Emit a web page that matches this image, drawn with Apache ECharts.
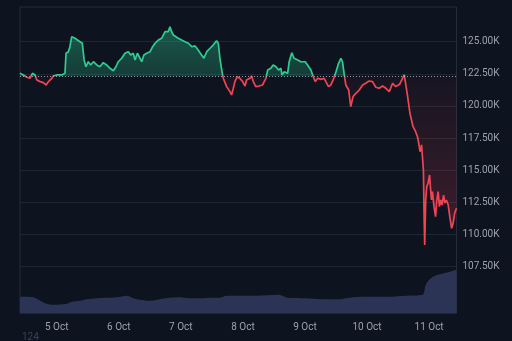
<!DOCTYPE html>
<html>
<head>
<meta charset="utf-8">
<script src="https://cdn.jsdelivr.net/npm/echarts@6/dist/echarts.min.js"></script>
<style>
html,body{margin:0;padding:0;background:#0e1320;}
#c{width:512px;height:341px;}
</style>
</head>
<body>
<div id="c"></div>
<script>
// hours since 4 Oct 2025 00:00 UTC
const hours = [
  9.8, 11.1, 12.4, 13.7, 14.6, 15.6, 16.3, 17.6, 18.8, 19.9,
  20.8, 22.1, 22.7, 24.0, 25.9, 27.2, 27.6, 28.5, 29.1, 29.8,
  30.4, 31.1, 32.0, 33.0, 33.9, 34.6, 35.3, 36.2, 37.1, 38.2,
  39.5, 40.7, 42.0, 43.3, 44.6, 45.9, 46.9, 47.8, 49.1, 50.4,
  51.7, 52.6, 53.6, 54.3, 55.2, 56.2, 56.9, 57.7, 58.8, 60.1,
  61.1, 62.0, 63.3, 64.6, 65.9, 66.5, 67.1, 67.8, 68.4, 69.1,
  70.1, 71.0, 72.3, 73.6, 74.9, 76.2, 77.5, 78.7, 80.0, 80.9,
  82.0, 83.3, 84.5, 85.8, 86.5, 87.1, 87.8, 88.4, 89.7, 91.0,
  91.6, 92.3, 92.9, 93.8, 94.8, 95.9, 96.8, 97.4, 98.7, 99.4,
  100.0, 101.0, 102.3, 103.6, 104.9, 105.6, 106.8, 107.7, 108.8, 109.8,
  110.7, 111.1, 112.0, 113.3, 113.9, 114.9, 115.8, 117.2, 118.4, 119.1,
  120.1, 121.0, 122.3, 123.2, 124.0, 124.9, 126.2, 127.4, 128.1, 129.1,
  130.0, 130.9, 132.0, 133.0, 133.9, 134.5, 135.2, 135.8, 136.9, 137.7,
  138.6, 139.7, 141.0, 142.3, 143.5, 144.8, 146.1, 147.4, 148.7, 150.0,
  151.3, 152.6, 153.9, 155.1, 156.7, 158.4, 159.0, 159.7, 160.6, 161.2,
  161.8, 162.8, 163.5, 164.0, 164.5, 165.1, 165.6, 165.8, 166.1, 166.3,
  166.7, 167.1, 167.6, 168.2, 168.5, 168.9, 169.3, 169.9, 170.5, 171.0,
  171.5, 172.0, 172.5, 173.0, 173.6, 174.1, 174.7, 175.4, 176.0, 176.7,
  177.3, 177.9, 178.6
];
const prices = [
  122540, 122410, 122230, 122150, 122540, 122410, 122020, 121890, 121810, 121630,
  121890, 122150, 122330, 122410, 122410, 122540, 124100, 124220, 124610, 125390,
  125520, 125270, 125130, 125000, 124880, 123580, 123050, 123440, 123190, 123440,
  123190, 123050, 123370, 123190, 122930, 122740, 123050, 123440, 123710, 124100,
  124220, 123960, 124100, 123580, 124100, 123710, 123440, 123960, 124100, 124220,
  124610, 124880, 125130, 125270, 125780, 125650, 125780, 126170, 125780, 125520,
  125390, 125270, 125130, 125000, 124880, 124610, 124670, 124350, 123960, 123710,
  124220, 124490, 124740, 125080, 124880, 123710, 122800, 122150, 121500, 121110,
  120850, 121370, 121890, 122270, 122150, 121890, 121550, 122020, 122150, 122330,
  121890, 121500, 121550, 121630, 122150, 122800, 122930, 123190, 123050, 122800,
  122930, 122410, 122660, 122540, 123440, 124140, 123710, 123580, 123440, 123580,
  123440, 123190, 122800, 122270, 121890, 122150, 122070, 122150, 122020, 121500,
  121630, 122020, 122660, 123320, 123710, 123440, 122410, 121630, 121240, 119940,
  120720, 120980, 121240, 121630, 121760, 121940, 121890, 121450, 121370, 121550,
  121370, 121110, 121760, 121500, 121710, 122410, 121630, 120720, 119420, 118900,
  118380, 117990, 117600, 117090, 116430, 116960, 117090, 115010, 111110, 109170,
  112670, 113710, 113970, 114620, 113710, 112670, 113320, 112150, 111370, 112670,
  113320, 112150, 112670, 112280, 113060, 112420, 112670, 112280, 111370, 110470,
  110860, 111640, 112030
];
const baseline = 122300;

const volHours = [
  9.8, 15.0, 17.6, 20.1, 22.7, 27.9, 29.8, 33.0, 35.6, 39.5,
  43.3, 47.2, 51.1, 53.6, 56.2, 60.1, 63.9, 67.8, 71.7, 75.5,
  79.4, 84.5, 87.1, 89.7, 94.8, 101.0, 110.0, 113.3, 120.4, 126.8,
  133.2, 138.4, 146.1, 152.6, 159.0, 165.5, 166.7, 168.7, 171.3, 174.5,
  178.6
];
const volumes = [
  33, 32, 25, 19, 17, 19, 23, 25, 28, 30,
  31, 32, 35, 30, 27, 25, 28, 31, 32, 30,
  30, 31, 31, 35, 35, 35, 37, 31, 30, 28,
  28, 32, 33, 33, 35, 37, 57, 70, 77, 81,
  87
];

const T0 = Date.UTC(2025, 9, 4);
const toTime = h => T0 + h * 3600000;

const lineData = hours.map((h, i) => [toTime(h), prices[i]]);
const upData = hours.map((h, i) => [toTime(h), Math.max(prices[i], baseline)]);
const downData = hours.map((h, i) => [toTime(h), Math.min(prices[i], baseline)]);
const volData = volHours.map((h, i) => [toTime(h), volumes[i]]);

const xMin = toTime(hours[0]);
const xMax = toTime(hours[hours.length - 1]);

const GREEN = '#2ecc8f';
const RED = '#f04452';
const LABEL = '#9ca3af';
const FONT = 'Roboto, "Noto Sans", sans-serif';
const H = 341;

const chart = echarts.init(document.getElementById('c'), null, {renderer: 'canvas'});
chart.setOption({
  backgroundColor: '#0e1320',
  animation: false,
  useUTC: true,
  grid: [
    {left: 20, right: 55.5, top: 9.6, bottom: 42.5, show: false},
    {left: 20, right: 55.5, top: 7, bottom: 27.7, show: true, borderColor: '#262c3b', borderWidth: 1, backgroundColor: 'transparent'}
  ],
  xAxis: [
    {type: 'time', gridIndex: 0, min: xMin, max: xMax, show: false},
    {type: 'time', gridIndex: 1, min: xMin, max: xMax,
     minInterval: 86400000, maxInterval: 86400000,
     axisLine: {show: false}, axisTick: {show: false}, splitLine: {show: false},
     axisLabel: {formatter: '{d} {MMM}', color: LABEL, fontSize: 10, fontFamily: FONT, margin: 9, hideOverlap: false}}
  ],
  yAxis: [
    {type: 'value', gridIndex: 0, position: 'right', min: 105000, max: 127500, interval: 2500,
     axisLine: {show: false}, axisTick: {show: false},
     splitLine: {show: true, showMinLine: false, showMaxLine: false, lineStyle: {color: '#1f2534', width: 1}},
     axisLabel: {color: LABEL, fontSize: 10, fontFamily: FONT, margin: 6, showMinLabel: false, showMaxLabel: false,
       formatter: v => (v / 1000).toFixed(2) + 'K'}},
    {type: 'value', gridIndex: 1, min: 0, max: 612, show: false}
  ],
  series: [
    {type: 'line', xAxisIndex: 1, yAxisIndex: 1, data: volData, smooth: 0.3, showSymbol: false,
     lineStyle: {width: 0}, areaStyle: {color: '#2b3454', opacity: 1}, z: 1, silent: true},
    {type: 'line', xAxisIndex: 0, yAxisIndex: 0, data: upData, showSymbol: false,
     lineStyle: {width: 0}, z: 2, silent: true,
     areaStyle: {origin: baseline, opacity: 1,
       color: new echarts.graphic.LinearGradient(0, 0, 0, 1, [
         {offset: 0, color: 'rgba(46,204,143,0.38)'},
         {offset: 1, color: 'rgba(46,204,143,0.22)'}])}},
    {type: 'line', xAxisIndex: 0, yAxisIndex: 0, data: downData, showSymbol: false,
     lineStyle: {width: 0}, z: 2, silent: true,
     areaStyle: {origin: baseline, opacity: 1,
       color: new echarts.graphic.LinearGradient(0, 0, 0, 1, [
         {offset: 0, color: 'rgba(240,68,82,0.04)'},
         {offset: 1, color: 'rgba(240,68,82,0.22)'}])}},
    {id: 'price', type: 'line', xAxisIndex: 0, yAxisIndex: 0, data: lineData, showSymbol: false,
     lineStyle: {width: 1.7, color: GREEN}, z: 3,
     markLine: {silent: true, symbol: ['none', 'none'], label: {show: false},
       lineStyle: {color: 'rgba(190,196,210,0.75)', type: [1, 2], width: 1},
       data: [{yAxis: baseline}]}}
  ],
  graphic: [
    {type: 'text', left: 22, top: 332, style: {text: '124', fill: '#3a4152', fontSize: 10, fontFamily: FONT}}
  ]
});

// split line colour at the baseline's pixel position (from the axis scale)
const yb = chart.convertToPixel({xAxisIndex: 0, yAxisIndex: 0}, [xMin, baseline])[1];
const f = yb / H;
chart.setOption({
  series: [{id: 'price', lineStyle: {color: new echarts.graphic.LinearGradient(0, 0, 0, H, [
    {offset: 0, color: GREEN}, {offset: f, color: GREEN},
    {offset: f, color: RED}, {offset: 1, color: RED}], true)}}]
});
</script>
</body>
</html>
